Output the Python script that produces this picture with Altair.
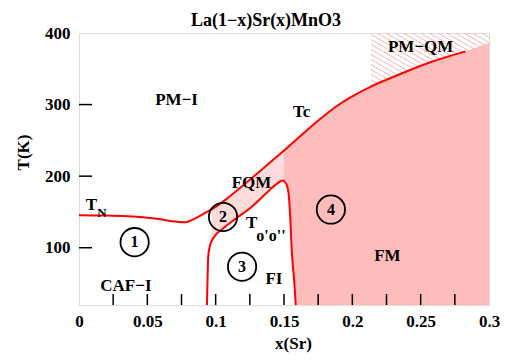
import altair as alt
import numpy as np
import pandas as pd

# ---- data ----
# Tc / T_N boundary (red line)
tc_x = [0.0, 0.02, 0.035, 0.05, 0.0586, 0.0707, 0.078, 0.085, 0.0925, 0.097, 0.1,
        0.125, 0.15, 0.1771, 0.1879, 0.1986, 0.2129, 0.2343, 0.2565, 0.2829]
tc_T = [145.5, 145, 144, 142, 140, 136.5, 135.5, 141, 149, 153.5, 157,
        195, 236, 281, 297, 310, 324.5, 342, 358.7, 374.3]
# extension of the FM fill to the right frame
fm_edge_x = [0.3]
fm_edge_T = [386]
# FQM fill limits and FM fill start
fqm_lo, fqm_hi = 0.097, 0.15
# T_o'o'' boundary (red line)
to_x = [0.0936, 0.0941, 0.0945, 0.0957, 0.0988, 0.1048, 0.1143, 0.1262, 0.138,
        0.1449, 0.149, 0.1521, 0.1534, 0.1545, 0.1557, 0.1576, 0.1586]
to_T = [20, 59, 86, 102, 115, 126, 140, 157, 178,
        189.5, 194, 187, 175, 145, 95, 50, 20]
# PM-QM hatched zone
pmqm_x0 = 0.2136

# region labels
lab_text = ["PM−I", "Tc", "FQM", "CAF−I", "FI", "FM", "PM−QM", "T", "T"]
lab_x = [0.0714, 0.1629, 0.1262, 0.0343, 0.1426, 0.2257, 0.25, 0.009, 0.1264]
lab_T = [305.7, 289, 191, 46, 57, 88.6, 380.6, 159.5, 135]
sub_text = ["N", "o'o''"]
sub_x = [0.0168, 0.1405]
sub_T = [148, 116]
sub_size = [13, 16]
# circled numbers
circ_n = ["1", "2", "3", "4"]
circ_x = [0.0407, 0.1054, 0.1193, 0.1843]
circ_T = [107.8, 143, 73.5, 153.4]

# ticks / labels
x_labels = [0, 0.05, 0.1, 0.15, 0.2, 0.25, 0.3]
x_minor = [0.025, 0.05, 0.075, 0.1, 0.125, 0.15, 0.175, 0.2, 0.225, 0.25, 0.275]
y_labels = [100, 200, 300, 400]
y_minor = [100, 200, 300]

X_DOM = [0, 0.3]
Y_DOM = [20, 400]
W, H = 410, 272
FONT = "Liberation Serif"

tc_df = pd.DataFrame({"x": tc_x, "T": tc_T})
fqm_df = tc_df[(tc_df.x >= fqm_lo) & (tc_df.x <= fqm_hi)]
fm_df = pd.concat([tc_df[tc_df.x >= fqm_hi],
                   pd.DataFrame({"x": fm_edge_x, "T": fm_edge_T})])
to_df = pd.DataFrame({"x": to_x, "T": to_T})
lab_df = pd.DataFrame({"label": lab_text, "x": lab_x, "T": lab_T})
sub_df = pd.DataFrame({"label": sub_text, "x": sub_x, "T": sub_T, "s": sub_size})
circ_df = pd.DataFrame({"n": circ_n, "x": circ_x, "T": circ_T})
xt_df = pd.DataFrame({"x": x_minor})
yt_df = pd.DataFrame({"T": y_minor})

# hatch lines for the PM-QM zone (style only)
k = 1102.0
step = 7.0
lo = 300.0
rows = []
for c in np.arange(lo, 400 + k * (X_DOM[1] - pmqm_x0) + step, step):
    xa = max(pmqm_x0, pmqm_x0 + (c - 400) / k)
    xb = min(X_DOM[1], pmqm_x0 + (c - lo) / k)
    if xb > xa:
        rows.append({"xa": xa, "xb": xb,
                     "Ta": c - k * (xa - pmqm_x0), "Tb": c - k * (xb - pmqm_x0)})
hatch_df = pd.DataFrame(rows)

x_axis = alt.Axis(values=x_labels, format="~g", ticks=False, domain=False, grid=False,
                  labelFont=FONT, labelFontWeight="bold", labelFontSize=17,
                  labelColor="black", labelPadding=8, labelFlush=False, labelOverlap=False,
                  title="x(Sr)", titleFont=FONT, titleFontWeight="bold", titleFontSize=17,
                  titleColor="black", titleX=214, titleY=38, titleAlign="center",
                  titleBaseline="middle")
y_axis = alt.Axis(values=y_labels, ticks=False, domain=False, grid=False,
                  labelFont=FONT, labelFontWeight="bold", labelFontSize=17,
                  labelColor="black", labelPadding=9, labelOverlap=False,
                  title="T(K)", titleFont=FONT, titleFontWeight="bold", titleFontSize=17,
                  titleColor="black", titleX=-56, titleY=119, titleAlign="center",
                  titleBaseline="middle", titleAngle=270)


def X(f):
    return alt.X(f, type="quantitative", scale=alt.Scale(domain=X_DOM, nice=False, zero=False), axis=x_axis)


def Y(f):
    return alt.Y(f, type="quantitative", scale=alt.Scale(domain=Y_DOM, nice=False, zero=False), axis=y_axis)


hatch = alt.Chart(hatch_df).mark_rule(color="#f6b3b3", strokeWidth=1, clip=True).encode(
    x=X("xa"), x2="xb", y=Y("Ta"), y2="Tb")

fqm = alt.Chart(fqm_df).mark_area(color="#ffdcdc", interpolate="monotone", clip=True).encode(
    x=X("x"), y=Y("T"), y2=alt.datum(Y_DOM[0]))

fm = alt.Chart(fm_df).mark_area(color="#ffbcbc", interpolate="monotone", clip=True).encode(
    x=X("x"), y=Y("T"), y2=alt.datum(Y_DOM[0]))

fi = alt.Chart(to_df).mark_area(color="white", interpolate="monotone", clip=True).encode(
    x=X("x"), y=Y("T"), y2=alt.datum(Y_DOM[0]))

tc_line = alt.Chart(tc_df).mark_line(color="#ff0000", strokeWidth=2, interpolate="monotone", clip=True).encode(
    x=X("x"), y=Y("T"))

to_line = alt.Chart(to_df).mark_line(color="#ff0000", strokeWidth=2, interpolate="monotone", clip=True).encode(
    x=X("x"), y=Y("T"))

xticks = alt.Chart(xt_df).mark_rule(color="black", strokeWidth=1.5).encode(
    x=X("x"), y=alt.value(H), y2=alt.value(H - 11))

yticks = alt.Chart(yt_df).mark_rule(color="black", strokeWidth=1.5).encode(
    y=Y("T"), x=alt.value(0), x2=alt.value(13))

circles = alt.Chart(circ_df).mark_point(shape="circle", filled=False, size=800,
                                        color="black", strokeWidth=1.8, opacity=1).encode(
    x=X("x"), y=Y("T"))

circ_txt = alt.Chart(circ_df).mark_text(font=FONT, fontWeight="bold", fontSize=16,
                                        color="black", align="center", baseline="middle").encode(
    x=X("x"), y=Y("T"), text="n:N")

labels = alt.Chart(lab_df).mark_text(font=FONT, fontWeight="bold", fontSize=17,
                                     color="black", align="center", baseline="middle").encode(
    x=X("x"), y=Y("T"), text="label:N")

subs = alt.Chart(sub_df).mark_text(font=FONT, fontWeight="bold",
                                   color="black", align="center", baseline="middle").encode(
    x=X("x"), y=Y("T"), text="label:N",
    size=alt.Size("s:Q", scale=None, legend=None))

chart = alt.layer(hatch, fqm, fm, fi, tc_line, to_line, xticks, yticks,
                  circles, circ_txt, labels, subs).properties(
    width=W, height=H,
    title=alt.TitleParams("La(1−x)Sr(x)MnO3", font=FONT, fontWeight="bold", fontSize=18,
                          color="black", anchor="middle", dx=-18, dy=20, offset=0,
                          baseline="alphabetic"),
    autosize=alt.AutoSizeParams(type="none"),
    padding={"left": 79, "top": 33, "right": 16, "bottom": 57},
).configure_view(stroke="black", strokeWidth=1.8).configure(background="white")

chart.save("out.html", embed_options={"renderer": "svg", "actions": False})
